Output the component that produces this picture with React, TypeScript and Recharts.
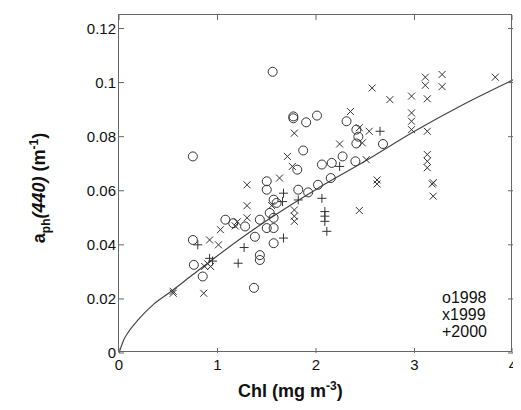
import { ComposedChart, Scatter, Line, XAxis, YAxis } from 'recharts';

const y1998 = [
  [1.56, 0.104], [0.75, 0.0727], [1.77, 0.0875], [1.77, 0.0868], [2.01, 0.0878], [1.9, 0.0853],
  [2.31, 0.0857], [2.41, 0.0826], [2.43, 0.08], [2.41, 0.0775], [2.68, 0.0773], [1.87, 0.0749],
  [2.27, 0.0727], [2.4, 0.0709], [2.16, 0.0703], [2.06, 0.0697], [2.15, 0.0647], [2.02, 0.0622],
  [1.92, 0.0594], [1.82, 0.0604], [1.81, 0.0678], [1.5, 0.0635], [1.5, 0.0604], [1.57, 0.0567],
  [1.53, 0.0518], [1.57, 0.05], [1.43, 0.0493], [1.5, 0.0462], [1.57, 0.0462], [1.38, 0.043],
  [1.57, 0.0406], [1.43, 0.0362], [1.43, 0.0344], [1.37, 0.0241], [1.08, 0.0493], [1.28, 0.0468],
  [1.16, 0.048], [0.75, 0.0418], [0.76, 0.0326], [0.85, 0.0283], [1.6, 0.0555],
];

const y1999 = [
  [3.11, 0.102], [3.28, 0.103], [3.11, 0.099], [3.28, 0.0985], [3.13, 0.094], [2.97, 0.095],
  [2.75, 0.0937], [2.57, 0.098], [3.82, 0.102], [2.97, 0.0888], [2.97, 0.0857], [2.97, 0.0826],
  [3.13, 0.082], [3.13, 0.0734], [3.13, 0.0709], [3.13, 0.0685], [3.19, 0.063], [3.18, 0.0625],
  [3.19, 0.058], [2.62, 0.064], [2.62, 0.0625], [2.44, 0.0527], [2.35, 0.0893], [2.44, 0.0833],
  [2.54, 0.082], [2.47, 0.0777], [2.51, 0.0715], [2.24, 0.0773], [1.78, 0.0813], [1.71, 0.0727],
  [1.76, 0.069], [1.78, 0.0529], [1.78, 0.0506], [1.78, 0.0487], [1.3, 0.0622], [1.3, 0.0545],
  [1.3, 0.05], [1.63, 0.0647], [1.55, 0.0545], [1.03, 0.0456], [0.92, 0.0418], [1.01, 0.04],
  [0.9, 0.033], [0.93, 0.032], [0.87, 0.032], [0.55, 0.0221], [0.55, 0.0228], [0.86, 0.0221],
  [1.2, 0.0485], [1.18, 0.047],
];

const y2000 = [
  [2.65, 0.082], [2.06, 0.0572], [1.82, 0.0566], [1.67, 0.0591], [2.09, 0.0523], [2.09, 0.0506],
  [2.09, 0.0487], [2.11, 0.045], [1.67, 0.0425], [1.27, 0.039], [1.21, 0.0332], [0.8, 0.04],
  [0.92, 0.035], [0.95, 0.034], [2.24, 0.069], [1.66, 0.056],
];

const fitX = [0, 0.05, 0.1, 0.2, 0.35, 0.5, 0.75, 1, 1.5, 2, 2.5, 3, 3.5, 4];
const fitY = [0, 0.005, 0.008, 0.0125, 0.018, 0.022, 0.029, 0.036, 0.049, 0.0605, 0.071, 0.082, 0.092, 0.101];
const yTicks = [0, 0.02, 0.04, 0.06, 0.08, 0.1, 0.12];
const xTicks = [0, 1, 2, 3, 4];

const toPts = (arr: number[][]) => arr.map(([x, y]) => ({ x, y }));
const fit = fitX.map((x, i) => ({ x, y: fitY[i] }));

const C = '#333';
const AX = '#666';
const Circle = (p: any) => <circle cx={p.cx} cy={p.cy} r={4.5} fill="none" stroke={C} strokeWidth={1} />;
const Cross = (p: any) => (
  <path d={`M${p.cx - 3.5},${p.cy - 3.5}L${p.cx + 3.5},${p.cy + 3.5}M${p.cx - 3.5},${p.cy + 3.5}L${p.cx + 3.5},${p.cy - 3.5}`} stroke={C} strokeWidth={1} />
);
const Plus = (p: any) => (
  <path d={`M${p.cx - 4.5},${p.cy}L${p.cx + 4.5},${p.cy}M${p.cx},${p.cy - 4.5}L${p.cx},${p.cy + 4.5}`} stroke={C} strokeWidth={1} />
);

const txt = { fontFamily: 'Liberation Sans, Arial, sans-serif', fontSize: 15, fill: '#111' };

// ticks drawn inward, labels outside, with a mirrored set on the top and right
function renderLeftTick(p: any) {
  return (
    <g>
      <line x1={p.x} y1={p.y} x2={p.x + 5} y2={p.y} stroke={AX} />
      <line x1={p.x + 394} y1={p.y} x2={p.x + 389} y2={p.y} stroke={AX} />
      <text x={p.x - 3} y={p.y + 5} textAnchor="end" {...txt}>{p.payload.value}</text>
    </g>
  );
}
function renderBottomTick(p: any) {
  return (
    <g>
      <line x1={p.x} y1={p.y} x2={p.x} y2={p.y - 5} stroke={AX} />
      <line x1={p.x} y1={p.y - 338} x2={p.x} y2={p.y - 333} stroke={AX} />
      <text x={p.x} y={p.y + 17} textAnchor="middle" {...txt}>{p.payload.value}</text>
    </g>
  );
}

export default function App() {
  return (
    <div style={{ position: 'relative', width: 513, height: 402, fontFamily: 'Liberation Sans, Arial, sans-serif' }}>
      <ComposedChart width={510} height={394} margin={{ top: 7, right: 5, bottom: 19, left: 61 }}>
        <XAxis type="number" dataKey="x" domain={[0, 4]} ticks={xTicks} tickSize={0} tickMargin={0}
          tickLine={false} tick={renderBottomTick} axisLine={false} height={30} allowDataOverflow />
        <YAxis type="number" dataKey="y" domain={[0, 0.125]} ticks={yTicks} tickSize={0} tickMargin={0}
          tickLine={false} tick={renderLeftTick} axisLine={false} width={50} allowDataOverflow />
        <Line data={fit} dataKey="y" type="monotone" stroke="#444" strokeWidth={1.2} dot={false} isAnimationActive={false} />
        <Scatter data={toPts(y1998)} shape={Circle} isAnimationActive={false} />
        <Scatter data={toPts(y1999)} shape={Cross} isAnimationActive={false} />
        <Scatter data={toPts(y2000)} shape={Plus} isAnimationActive={false} />
      </ComposedChart>
      <div style={{ position: 'absolute', left: 111, top: 7, width: 394, height: 338, border: `1.5px solid ${AX}`, boxSizing: 'border-box', marginLeft: -1, marginTop: -1, width2: 0 } as any} />
      <div style={{ position: 'absolute', left: 434, top: 281, fontSize: 16, lineHeight: '17px', color: '#111' }}>
        o1998<br />x1999<br />+2000
      </div>
      <div style={{ position: 'absolute', left: 230, top: 371, fontSize: 18, fontWeight: 'bold', color: '#111', whiteSpace: 'nowrap' }}>
        Chl (mg m<sup style={{ fontSize: 12 }}>-3</sup>)
      </div>
      <div style={{ position: 'absolute', left: 32, top: 180, transform: 'translate(-50%,-50%) rotate(-90deg)', fontSize: 18, fontWeight: 'bold', color: '#111', whiteSpace: 'nowrap' }}>
        a<sub style={{ fontSize: 12 }}>ph</sub><i>(440)</i> (m<sup style={{ fontSize: 12 }}>-1</sup>)
      </div>
    </div>
  );
}
